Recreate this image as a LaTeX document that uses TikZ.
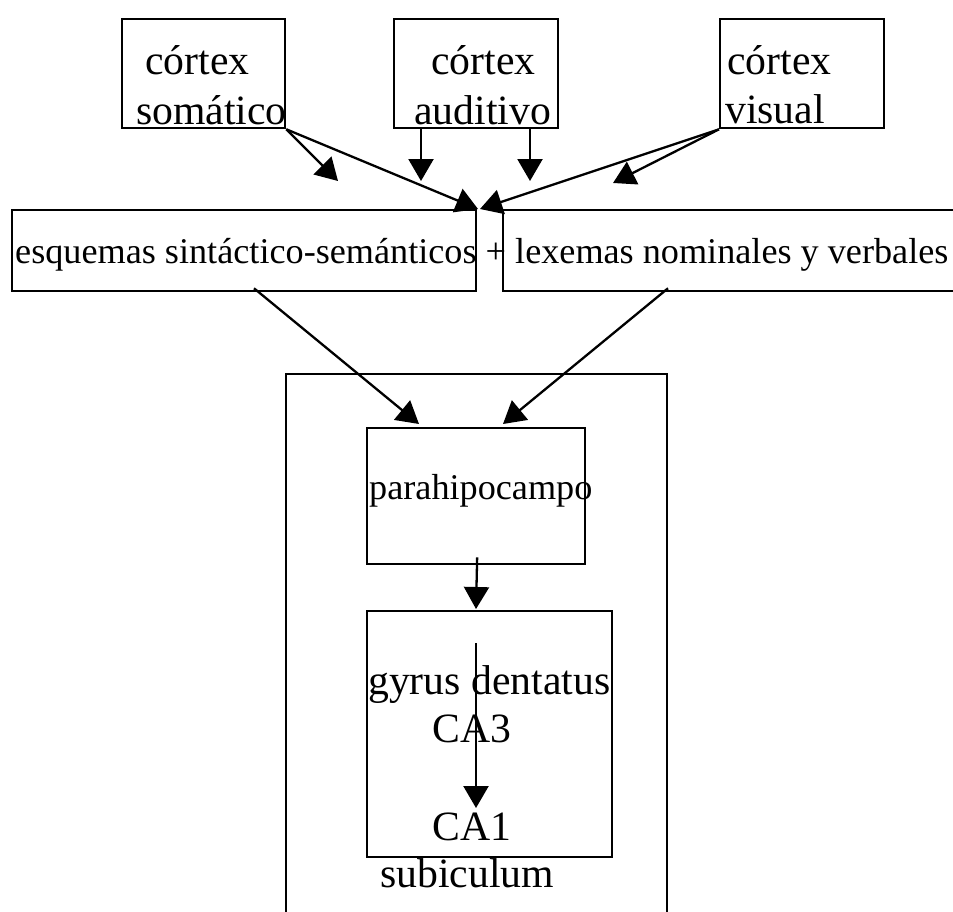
\documentclass[tikz,border=0pt]{standalone}
\usepackage{fontspec}
\setmainfont{Liberation Serif}
\usetikzlibrary{arrows.meta}
\begin{document}
\begin{tikzpicture}[x=1pt,y=-1pt,
  box/.style={draw, line width=2.3pt, inner sep=0pt, anchor=north west},
  bigtext/.style={font=\fontsize{41.7pt}{50pt}\selectfont, inner sep=0pt, anchor=base west},
  midtext/.style={font=\fontsize{36.2pt}{44pt}\selectfont, inner sep=0pt, anchor=base west},
  conn/.style={line width=2.3pt, -{Triangle[length=22pt,width=25pt]}}]
\useasboundingbox (0,0) rectangle (953,911);
\clip (0,0) rectangle (953,911);

% boxes
\node[box, minimum width=163pt, minimum height=109pt] (som) at (121,18) {};
\node[box, minimum width=164pt, minimum height=109pt] (aud) at (393,18) {};
\node[box, minimum width=164pt, minimum height=109pt] (vis) at (719,18) {};
\node[box, minimum width=464pt, minimum height=81pt] (esq) at (11,209) {};
\node[box, minimum width=520pt, minimum height=81pt] (lex) at (502,209) {};
\node[box, minimum width=381pt, minimum height=600pt] (hip) at (285,373) {};
\node[box, minimum width=218pt, minimum height=136pt] (para) at (366,427) {};
\node[box, minimum width=245pt, minimum height=246pt] (gyr) at (366,610) {};

% labels
\node[bigtext] (somA) at (145,74) {córtex};
\node[bigtext] (somB) at (136,124) {somático};
\node[bigtext] (audA) at (431,74) {córtex};
\node[bigtext] (audB) at (414,124) {auditivo};
\node[bigtext] (visA) at (727,74) {córtex};
\node[bigtext] (visB) at (725,123) {visual};
\node[midtext] (esqtxt) at (15,263) {esquemas sintáctico-semánticos + lexemas nominales y verbales};
\node[midtext] (paratxt) at (369,499) {parahipocampo};
\node[bigtext] (gyrtxt) at (368,694) {gyrus dentatus};
\node[bigtext] (ca3) at (432,742) {CA3};
\node[bigtext] (ca1) at (432,840) {CA1};
\node[bigtext] (sub) at (380,887) {subiculum};

% free arrow ends
\coordinate (e1) at (338,181);
\coordinate (e2) at (478,209);
\coordinate (e3) at (421,181);
\coordinate (e4) at (530,181);
\coordinate (e5) at (613,183);
\coordinate (e6) at (480,209);
\coordinate (e7) at (419,424);
\coordinate (e8) at (503,424);
\coordinate (e9) at (476,609);
\coordinate (s10) at (476,643);
\coordinate (e10) at (476,808);

% connectors
\draw[conn] (som.south east) -- (e1);
\draw[conn] (som.south east) -- (e2);
\draw[conn] ([xshift=28pt]aud.south west) -- (e3);
\draw[conn] ([xshift=137pt]aud.south west) -- (e4);
\draw[conn] (vis.south west) -- (e5);
\draw[conn] (vis.south west) -- (e6);
\draw[conn] ([xshift=243pt,yshift=4pt]esq.south west) -- (e7);
\draw[conn] ([xshift=166pt,yshift=4pt]lex.south west) -- (e8);
\draw[conn] ([xshift=1pt,yshift=8pt]para.south) -- (e9);
\draw[conn] (s10) -- (e10);
\end{tikzpicture}
\end{document}
